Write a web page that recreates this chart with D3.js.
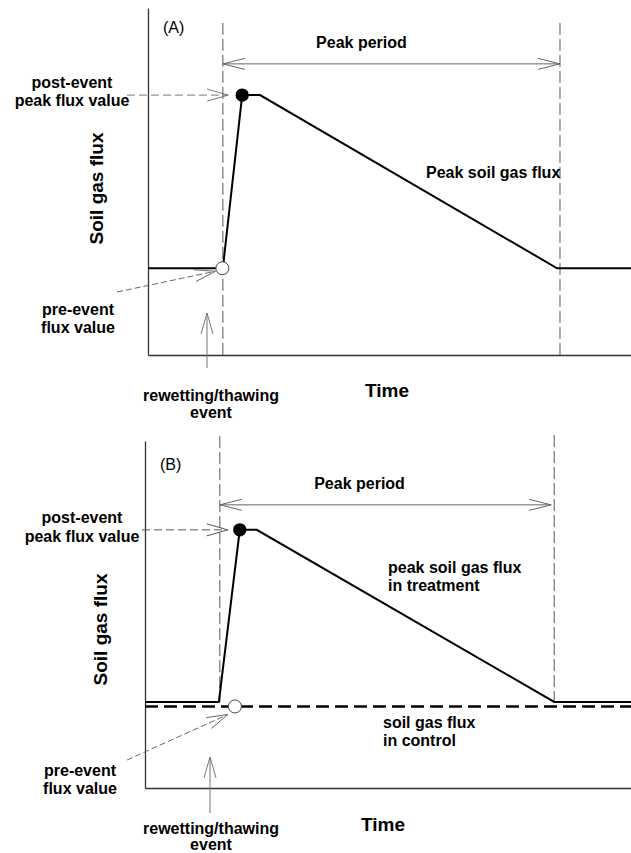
<!DOCTYPE html>
<html><head><meta charset="utf-8">
<script src="https://cdn.jsdelivr.net/npm/d3@7"></script>
<style>body{margin:0;background:#fff}svg{display:block}text{font-family:"Liberation Sans",Arial,sans-serif}</style>
</head><body>
<script>
// ---------- data (time 0-100, flux 0-100) ----------
const timeA = [0, 15.5, 19.5, 23.2, 84.7, 100];
const fluxA = [25, 25, 74.9, 74.9, 25, 25];
const timeB = [0, 15.2, 19.5, 23.0, 84.2, 100];
const fluxTreatB = [24.8, 24.8, 74.4, 74.4, 24.8, 24.8];
const timeControlB = [0, 100];
const fluxControlB = [23.5, 23.5];
const eventTime = [15.5, 15.4];        // A, B
const endTime = [85.3, 84.2];          // A, B
const peakPoint = [[19.5, 74.9], [19.5, 74.4]];
const prePoint = [[15.4, 25], [18.5, 23.5]];
const periodArrowFlux = [83.9, 81.6];
const panelLabels = ["(A)", "(B)"];
const yLabel = "Soil gas flux";
const xLabel = "Time";

const W = 631, H = 853;
const svg = d3.select("body").append("svg").attr("width", W).attr("height", H);

const panels = [
  {x0:148, x1:631, yTop:8, yBot:355, evTop:95.7, evBot:0, endTop:95.7, endBot:0},
  {x0:145, x1:631, yTop:441, yBot:788, evTop:101.4, evBot:24.8, endTop:101.7, endBot:24.8}
];

function arrowHead(g, tip, from, len, half, color) {
  const dx = tip[0]-from[0], dy = tip[1]-from[1];
  const L = Math.hypot(dx, dy), ux = dx/L, uy = dy/L;
  const bx = tip[0]-ux*len, by = tip[1]-uy*len;
  const px = -uy, py = ux;
  g.append("path")
    .attr("d", `M${bx+px*half},${by+py*half}L${tip[0]},${tip[1]}L${bx-px*half},${by-py*half}`)
    .attr("fill","none").attr("stroke",color).attr("stroke-width",1);
}
function arrow(g, from, to, dash, color) {
  g.append("line").attr("x1",from[0]).attr("y1",from[1]).attr("x2",to[0]).attr("y2",to[1])
    .attr("stroke",color).attr("stroke-width",1).attr("stroke-dasharray",dash||null);
  arrowHead(g, to, from, 21, 6, color);
}
function multiText(g, lines, x, y, lh, anchor, size, weight) {
  const t = g.append("text").attr("x",x).attr("y",y).attr("text-anchor",anchor)
    .attr("font-size",size).attr("font-weight",weight||"bold").attr("fill","#000");
  lines.forEach((l,i)=> t.append("tspan").attr("x",x).attr("dy", i===0?0:lh).text(l));
  return t;
}

panels.forEach((p, i) => {
  const g = svg.append("g");
  const x = d3.scaleLinear().domain([0,100]).range([p.x0, p.x1]);
  const y = d3.scaleLinear().domain([0,100]).range([p.yBot, p.yTop]);

  // axes (no ticks)
  const axY = d3.axisLeft(y).tickValues([]).tickSizeOuter(0);
  const axX = d3.axisBottom(x).tickValues([]).tickSizeOuter(0);
  g.append("g").attr("transform",`translate(${p.x0},0)`).call(axY)
    .select(".domain").attr("stroke","#333").attr("stroke-width",1.3);
  g.append("g").attr("transform",`translate(0,${p.yBot})`).call(axX)
    .select(".domain").attr("stroke","#333").attr("stroke-width",1.3);

  // vertical dashed lines
  [[eventTime[i], p.evTop, p.evBot],[endTime[i], p.endTop, p.endBot]].forEach(([t, a, b]) => {
    g.append("line").attr("x1",x(t)).attr("x2",x(t)).attr("y1",y(a)).attr("y2",y(b))
      .attr("stroke","#555").attr("stroke-width",1).attr("stroke-dasharray","12,4");
  });

  // peak period arrow (double-headed)
  const ya = y(periodArrowFlux[i]);
  const xa = x(eventTime[i]), xb = x(endTime[i]) - (i===1?3:0);
  g.append("line").attr("x1",xa).attr("x2",xb).attr("y1",ya).attr("y2",ya)
    .attr("stroke","#666").attr("stroke-width",1);
  arrowHead(g, [xa,ya], [xb,ya], 22, 5.5, "#666");
  arrowHead(g, [xb,ya], [xa,ya], 22, 5.5, "#666");

  const line = d3.line().x(d=>x(d[0])).y(d=>y(d[1]));
  if (i === 0) {
    g.append("path").datum(d3.zip(timeA, fluxA)).attr("d", line)
      .attr("fill","none").attr("stroke","#000").attr("stroke-width",2);
  } else {
    g.append("path").datum(d3.zip(timeControlB, fluxControlB)).attr("d", line)
      .attr("fill","none").attr("stroke","#000").attr("stroke-width",2.5).attr("stroke-dasharray","13,6");
    g.append("path").datum(d3.zip(timeB, fluxTreatB)).attr("d", line)
      .attr("fill","none").attr("stroke","#000").attr("stroke-width",2);
  }

  // markers
  g.append("circle").attr("cx",x(prePoint[i][0])).attr("cy",y(prePoint[i][1])).attr("r",6.5)
    .attr("fill","#fff").attr("stroke","#444").attr("stroke-width",1);
  g.append("circle").attr("cx",x(peakPoint[i][0])).attr("cy",y(peakPoint[i][1])).attr("r",6.7)
    .attr("fill","#000");

  // panel label
  g.append("text").attr("x",p.x0+15).attr("y",p.yTop + (i===0?25:29))
    .attr("font-size",16).attr("fill","#000").text(panelLabels[i]);

  // Peak period label
  g.append("text").attr("x", (xa+xb)/2 + (i===0?-30:-26)).attr("y", ya-16)
    .attr("text-anchor","middle").attr("font-size",16).attr("font-weight","bold").attr("fill","#000")
    .text("Peak period");

  // axis titles
  const yLabX = i===0 ? 103 : 107;
  const yLabY = (p.yTop+p.yBot)/2 + (i===0?7:15);
  g.append("text").attr("transform",`translate(${yLabX},${yLabY}) rotate(-90)`)
    .attr("text-anchor","middle").attr("font-size",19).attr("font-weight","bold").attr("fill","#000")
    .text(yLabel);
  g.append("text").attr("x", i===0?387:383).attr("y", p.yBot + (i===0?42:43))
    .attr("text-anchor","middle").attr("font-size",19).attr("font-weight","bold").attr("fill","#000")
    .text(xLabel);

  // left annotations
  const pk = [x(peakPoint[i][0]), y(peakPoint[i][1])];
  const pe = [x(prePoint[i][0]), y(prePoint[i][1])];
  if (i === 0) {
    multiText(g, ["post-event","peak flux value"], 72, 88, 18, "middle", 16);
    arrow(g, [127, pk[1]], [pk[0]-14, pk[1]], "8,4", "#777");
    multiText(g, ["pre-event","flux value"], 78, 315, 18, "middle", 16);
    arrow(g, [117, 292], [pe[0]-7, pe[1]+3], "6,3", "#666");
    arrow(g, [207, 368], [207, 313], null, "#777");
    multiText(g, ["rewetting/thawing","event"], 211, 401, 17, "middle", 16);
    g.append("text").attr("x",426).attr("y",178).attr("font-size",16).attr("font-weight","bold")
      .attr("fill","#000").text("Peak soil gas flux");
  } else {
    multiText(g, ["post-event","peak flux value"], 82, 523, 19, "middle", 16);
    arrow(g, [142, pk[1]], [pk[0]-12, pk[1]], "8,4", "#555");
    multiText(g, ["pre-event","flux value"], 80, 776, 18, "middle", 16);
    arrow(g, [127, 760], [pe[0]-7, pe[1]+8], "6,3", "#666");
    arrow(g, [210, 813], [210, 757], null, "#777");
    multiText(g, ["rewetting/thawing","event"], 211, 834, 16, "middle", 16);
    multiText(g, ["peak soil gas flux","in treatment"], 388, 573, 18, "start", 16);
    multiText(g, ["soil gas flux","in control"], 383, 728, 18, "start", 16);
  }
});
</script>
</body></html>
